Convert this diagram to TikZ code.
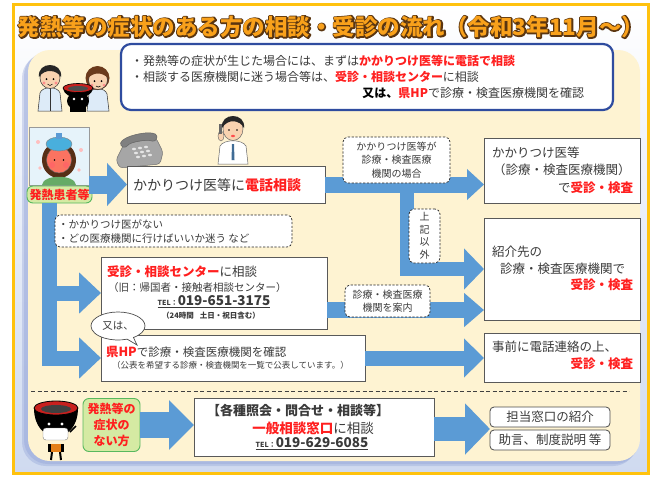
\documentclass[tikz,border=0pt]{standalone}
\usepackage{fontspec}
\setmainfont{Noto Sans CJK JP}
\usetikzlibrary{arrows.meta,shapes.callouts,shadows,calc}

\definecolor{frameorange}{HTML}{FFC20E}
\definecolor{skyback}{HTML}{CFDAF0}
\definecolor{panelcream}{HTML}{FEF3D2}
\definecolor{panelshade}{HTML}{8E9FD6}
\definecolor{flowblue}{HTML}{5B9BD5}
\definecolor{alertred}{HTML}{FF1F1F}
\definecolor{inkgray}{HTML}{3A3A3A}
\definecolor{navyline}{HTML}{2F4C9F}
\definecolor{titleorange}{HTML}{F9A11B}
\definecolor{tagfill}{HTML}{D5EAA3}
\definecolor{tagedge}{HTML}{58B85E}
\definecolor{skin}{HTML}{F8D2B0}
\definecolor{hairbrown}{HTML}{6B3A1C}
\definecolor{coatblue}{HTML}{DDEBF8}
\definecolor{photosky}{HTML}{E6F3FA}
\definecolor{bowlred}{HTML}{C8201E}

\newcommand\redbf[1]{\textcolor{alertred}{\bfseries #1}}
\newcommand\fsz[2]{\fontsize{#1}{#2}\selectfont}
\newcommand\mytitlestr{発熱等の症状のある方の相談・受診の流れ（令和3年11月～）}
% heading: a stroked dark-brown copy under the orange fill
\newcommand\outlinedheading{%
  \rlap{\special{pdf:literal direct 2 Tr 2.6 w 1 j 0.353 0.208 0.063 RG 0.353 0.208 0.063 rg}%
    \mytitlestr
    \special{pdf:literal direct 0 Tr 0.976 0.631 0.106 rg 0.976 0.631 0.106 RG}}%
  \mytitlestr}

\begin{document}
\begin{tikzpicture}[x=1pt,y=-1pt,
  every node/.style={inner sep=0pt, outer sep=0pt, text=inkgray},
  whitebox/.style={draw=black!65, line width=0.8pt, fill=white,
    drop shadow={shadow xshift=1.2pt, shadow yshift=-1.2pt, opacity=0.35}},
  dashbox/.style={draw=black!85, dash pattern=on 2.2pt off 1.6pt, line width=0.7pt,
    fill=white, rounded corners=5pt},
  tagbox/.style={draw=tagedge, line width=0.9pt, fill=tagfill, rounded corners=6pt},
  flow/.style={draw=flowblue, line width=#1, line join=miter},
  smallbox/.style={draw=black!70, line width=0.8pt, fill=white, rounded corners=4pt,
    minimum width=120pt, minimum height=20pt, font=\fsz{12.5}{14}},
]
\useasboundingbox (0,0) rectangle (651,477);

% ---- frame and panel ----
\fill[white] (0,0) rectangle (651,477);
\shade[top color=white, bottom color=skyback] (13,4) rectangle (648,473);
\draw[frameorange, line width=3pt] (13,4) rectangle (648,473);
\fill[panelshade, opacity=0.35, rounded corners=24pt] (22,54) rectangle (637,466);
\fill[panelshade, opacity=0.35, rounded corners=24pt] (24,52) rectangle (639,464);
\fill[panelcream, rounded corners=22pt] (28,50) rectangle (640,461);

% ---- title ----
\node[font=\fsz{22.5}{24}\bfseries, text=titleorange] (title) at (331,27) {\outlinedheading};

% ---- notice box ----
\node[draw=navyline, line width=2.2pt, fill=white, rounded corners=10pt,
  minimum width=492pt, minimum height=66pt, anchor=north west] (notebox) at (121,44) {};
\node[anchor=west, font=\fsz{12}{14}] (note1) at (131,61)
  {・発熱等の症状が生じた場合には、まずは\redbf{かかりつけ医等に電話で相談}};
\node[anchor=west, font=\fsz{12}{14}] (note2) at (131,77)
  {・相談する医療機関に迷う場合等は、\redbf{受診・相談センター}に相談};
\node[anchor=east, font=\fsz{12}{14}] (note3) at (584,93)
  {\textcolor{black}{\bfseries 又は、}\redbf{県HP}で診療・検査医療機関を確認};

% ---- staff figures, top left ----
% man
\filldraw[fill=coatblue, draw=black!80, line width=0.5pt] (38,111) -- (40,93) .. controls (42,86) and (58,86) .. (60,93) -- (62,111) -- cycle;
\draw[black!80, line width=0.5pt] (50,88) -- (50,111);
\filldraw[fill=skin, draw=black!80, line width=0.5pt] (50,78) ellipse (10 and 10.5);
\fill[black!85] (39,77) .. controls (37,61) and (63,61) .. (61,77) .. controls (57,70) and (45,68) .. (39,77) -- cycle;
\fill[black] (46.5,79) circle (1) (53.5,79) circle (1);
\fill[red!45] (44,83) circle (1.6) (56,83) circle (1.6);
\draw[black, line width=0.5pt] (47.5,84) .. controls (49,86) and (51,86) .. (52.5,84);
% woman
\filldraw[fill=coatblue, draw=black!80, line width=0.5pt] (87,111) -- (89,94) .. controls (91,87) and (105,87) .. (107,94) -- (109,111) -- cycle;
\fill[hairbrown] (97.5,78) ellipse (12 and 12);
\filldraw[fill=skin, draw=black!80, line width=0.5pt] (98,80) ellipse (9.5 and 9.5);
\fill[hairbrown] (88,78) .. controls (90,66) and (106,66) .. (108,78) .. controls (102,72) and (94,72) .. (88,78) -- cycle;
\fill[black] (94.5,81) circle (1) (101.5,81) circle (1);
\fill[red!45] (92,85) circle (1.5) (104,85) circle (1.5);
\draw[black, line width=0.5pt] (96,86) .. controls (97.5,87.5) and (99,87.5) .. (100.5,86);
% bowl mascot
\fill[black] (70,112) rectangle (86,98);
\fill[black] (78,101) ellipse (11 and 9);
\fill[black] (63,88) .. controls (64,101) and (92,101) .. (93,88) -- cycle;
\filldraw[fill=bowlred, draw=black, line width=0.6pt] (78,88) ellipse (15 and 4.5);
\fill[black!70] (78,88.5) ellipse (10 and 2.5);
\fill[white] (74,99) circle (1.3) (82,99) circle (1.3);

% ---- patient ----
\node[draw=black!40, fill=photosky, line width=0.6pt, minimum width=60pt, minimum height=58pt,
  anchor=north west] (patientpic) at (29,127) {};
\fill[hairbrown!80!black] (59,160) ellipse (17 and 18);
\fill[green!45!black!60!white] (42,185) .. controls (43,174) and (75,174) .. (76,185) -- cycle;
\filldraw[fill=red!45!skin, draw=black!60, line width=0.4pt] (59,160) ellipse (12.5 and 13);
\fill[red!60] (52,165) circle (3) (66,165) circle (3);
\fill[black] (54.5,160) circle (0.9) (63.5,160) circle (0.9);
\filldraw[fill=flowblue!80!cyan, draw=black!50, line width=0.4pt] (59,144) ellipse (13 and 7);
\fill[flowblue] (56,133) rectangle (62,139);
\fill[red!25] (38,142) circle (2) (81,150) circle (2) (79,170) circle (1.8) (40,168) circle (1.8);
\node[tagbox, minimum width=65pt, minimum height=17pt, font=\fsz{12}{13}] (patienttag) at (59.5,194.5)
  {\redbf{発熱患者等}};

% ---- telephone ----
\filldraw[fill=black!35, draw=black!55, line width=0.5pt, rounded corners=3pt]
  (116,160) -- (124,144) -- (156,138) -- (163,152) -- (160,164) -- (120,168) -- cycle;
\filldraw[fill=black!50, draw=black!60, line width=0.5pt, rounded corners=3pt]
  (120,146) .. controls (122,136) and (150,130) .. (158,136) -- (155,142) .. controls (146,139) and (130,142) .. (126,148) -- cycle;
\foreach \kx in {0,1,2} \foreach \ky in {0,1,2}
  \fill[white!90!black] (134+\kx*6+\ky*2,149+\ky*4-\kx*1) ellipse (2 and 1.3);

% ---- doctor on the phone ----
\filldraw[fill=white, draw=black!60, line width=0.5pt] (218,164) -- (220,146) .. controls (224,139) and (242,139) .. (246,146) -- (248,164) -- cycle;
\fill[flowblue!70!black] (232,144) -- (234,144) -- (234.5,160) -- (231.5,160) -- cycle;
\filldraw[fill=skin, draw=black!60, line width=0.5pt] (233,129) ellipse (10 and 11.5);
\fill[black!85] (222,128) .. controls (220,112) and (246,112) .. (244,128) .. controls (240,120) and (228,118) .. (222,128) -- cycle;
\fill[black] (229,130) circle (0.9) (237,130) circle (0.9);
\fill[red!70] (233,136) ellipse (2 and 1.2);
\filldraw[fill=skin, draw=black!60, line width=0.4pt] (221,136) ellipse (3 and 5);
\fill[black!60] (219,124) rectangle (222,134);

% ---- boxes of the main flow ----
\node[whitebox, minimum width=198pt, minimum height=37pt, anchor=north west] (callbox) at (127,166) {};
\node[anchor=west, font=\fsz{14}{16}] (calltext) at (133,185) {かかりつけ医等に\redbf{電話相談}};

\node[whitebox, minimum width=156pt, minimum height=65pt, anchor=north west] (boxA) at (484,138) {};
\node[anchor=west, font=\fsz{12.5}{14}] (boxAl1) at (492,153) {かかりつけ医等};
\node[anchor=west, font=\fsz{12.5}{14}] (boxAl2) at (493,170) {（診療・検査医療機関）};
\node[anchor=east, font=\fsz{12.5}{14}] (boxAl3) at (633,188) {で\redbf{受診・検査}};

\node[whitebox, minimum width=156pt, minimum height=102pt, anchor=north west] (boxB) at (484,218) {};
\node[anchor=west, font=\fsz{12.5}{14}] (boxBl1) at (492,252) {紹介先の};
\node[anchor=west, font=\fsz{12.5}{14}] (boxBl2) at (500,269) {診療・検査医療機関で};
\node[anchor=east, font=\fsz{12.5}{14}] (boxBl3) at (633,285) {\redbf{受診・検査}};

\node[whitebox, minimum width=156pt, minimum height=49pt, anchor=north west] (boxC) at (484,333) {};
\node[anchor=west, font=\fsz{12.5}{14}] (boxCl1) at (492,347) {事前に電話連絡の上、};
\node[anchor=east, font=\fsz{12.5}{14}] (boxCl2) at (633,364) {\redbf{受診・検査}};

\node[whitebox, minimum width=226pt, minimum height=72pt, anchor=north west] (centerbox) at (101,257) {};
\node[anchor=west, font=\fsz{12.5}{14}] (centerl1) at (107,272) {\redbf{受診・相談センター}に相談};
\node[anchor=west, font=\fsz{10.5}{12}] (centerl2) at (108,288) {（旧：帰国者・接触者相談センター）};
\node[font=\bfseries] (centerl3) at (214,302)
  {\underline{{\fsz{7}{8}TEL：}{\fsz{13.5}{14}019-651-3175}}};
\node[font=\fsz{7.5}{9}\bfseries] (centerl4) at (211,316) {（24時間\hspace{6pt}土日・祝日含む）};

\node[whitebox, minimum width=264pt, minimum height=46pt, anchor=north west] (hpbox) at (101,335) {};
\node[anchor=west, font=\fsz{11.5}{13}] (hpl1) at (106,352)
  {{\fsz{12.5}{14}\redbf{県HP}}で診療・検査医療機関を確認};
\node[anchor=west, font=\fsz{8.5}{10}] (hpl2) at (112,365)
  {（公表を希望する診療・検査機関を一覧で公表しています。）};

% ---- flow arrows ----
\coordinate (leftbar) at (49,203);
\coordinate (forkpt) at (407,184);
\draw[flow=18pt, -{Triangle[width=42pt,length=20pt]}] (patientpic.east |- callbox.west) -- (callbox.west);
\draw[flow=15pt, -{Triangle[width=40pt,length=22pt]}] (leftbar) |- (hpbox.west);
\draw[flow=15pt, -{Triangle[width=40pt,length=22pt]}] (leftbar |- centerbox.west) -- (centerbox.west);
\draw[flow=16pt, -{Triangle[width=30pt,length=17pt]}] (callbox.east) -- (callbox.east -| boxA.west);
\draw[flow=14pt, -{Triangle[width=40pt,length=20pt]}] (forkpt) |- (boxB.west);
\draw[flow=16pt, -{Triangle[width=33pt,length=20pt]}] ($(centerbox.east)+(0,17)$) coordinate (guideout) -- (guideout -| boxB.west);
\draw[flow=15pt, -{Triangle[width=38pt,length=20pt]}] (hpbox.east) -- (hpbox.east -| boxC.west);

% ---- dashed notes on the arrows ----
\node[dashbox, minimum width=107pt, minimum height=46pt, align=center, font=\fsz{10}{13.5}] (noteA) at (396.5,160)
  {かかりつけ医等が\\診療・検査医療\\機関の場合};
\node[dashbox, minimum width=31pt, minimum height=54pt, align=center, font=\fsz{10}{12.5}] (noteB) at (424.5,236)
  {上\\記\\以\\外};
\node[dashbox, minimum width=85pt, minimum height=32pt, align=center, font=\fsz{10}{13.5}] (noteC) at (387.5,301)
  {診療・検査医療\\機関を案内};
\node[dashbox, minimum width=237pt, minimum height=32pt] (noteD) at (173.5,231) {};
\node[anchor=west, align=left, font=\fsz{10.5}{14}] (noteDtext) at (58,231)
  {・かかりつけ医がない\\・どの医療機関に行けばいいか迷う など};

% ---- speech bubble ----
\node[ellipse callout, draw=black!70, fill=white, line width=0.7pt, minimum width=54pt, minimum height=28pt,
  callout absolute pointer={(137,345)}, font=\fsz{10.5}{12}] (orbubble) at (118,326) {又は、};

% ---- lower section: consultations without symptoms ----
\coordinate (sepL) at (31,391);
\coordinate (sepR) at (629,391);
\draw[black!75, line width=1pt, dash pattern=on 4pt off 2.5pt] (sepL) -- (sepR);

% bowl mascot with mask
\fill[black] (48,444) rectangle (64,452);
\fill[orange!60!brown] (51,444) rectangle (61,452);
\draw[black, line width=2pt] (52,452) -- (51,460) (60,452) -- (61,460);
\fill[black] (34,408) .. controls (34,446) and (78,446) .. (78,408) -- cycle;
\filldraw[fill=bowlred, draw=black, line width=0.8pt] (56,408) ellipse (22 and 7);
\fill[black!75] (56,409) ellipse (15 and 4);
\fill[white] (49,424) circle (1.6) (62,424) circle (1.6);
\filldraw[fill=white, draw=black!50, line width=0.4pt, rounded corners=3pt] (43,428) rectangle (68,440);
\draw[black, line width=1.5pt] (70,432) -- (76,426);

\node[tagbox, minimum width=57pt, minimum height=53pt, align=center, font=\fsz{12}{16}] (notag) at (111.5,425)
  {\redbf{発熱等の}\\\redbf{症状の}\\\redbf{ない方}};

\node[whitebox, minimum width=240pt, minimum height=58pt, anchor=north west] (generalbox) at (194,398) {};
\node[font=\fsz{13}{15}\bfseries] (generall1) at (298,411) {【各種照会・問合せ・相談等】};
\node[font=\fsz{13.5}{15}] (generall2) at (313,428) {\redbf{一般相談窓口}に相談};
\node[font=\bfseries] (generall3) at (312,444)
  {\underline{{\fsz{7}{8}TEL：}{\fsz{13.5}{14}019-629-6085}}};

\node[smallbox, anchor=north west] (referbox) at (490,407) {担当窓口の紹介};
\node[smallbox, anchor=north west] (advicebox) at (490,430) {助言、制度説明 等};

\draw[flow=26pt, -{Triangle[width=48pt,length=25pt]}] (notag.east) -- (notag.east -| generalbox.west);
\coordinate (rightpair) at (490,429);
\draw[flow=24pt, -{Triangle[width=50pt,length=25pt]}] (generalbox.east |- rightpair) -- (rightpair);

\end{tikzpicture}
\end{document}
